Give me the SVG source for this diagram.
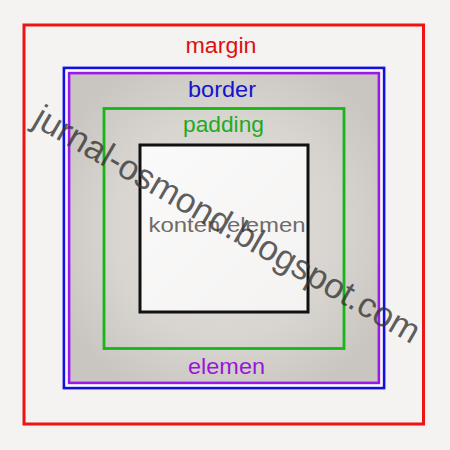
<svg xmlns="http://www.w3.org/2000/svg" width="450" height="450" viewBox="0 0 450 450">
  <defs>
    <radialGradient id="boxFill" cx="50%" cy="50%" r="60%">
      <stop offset="0" stop-color="#e2dfdc"/>
      <stop offset="0.6" stop-color="#d8d5d1"/>
      <stop offset="1" stop-color="#c9c5c1"/>
    </radialGradient>
    <linearGradient id="contentFill" x1="0" y1="0" x2="1" y2="1">
      <stop offset="0" stop-color="#fbfafa"/>
      <stop offset="1" stop-color="#f4f3f2"/>
    </linearGradient>
  </defs>
  <style>
    .lbl { font-family: "Liberation Sans", Arial, sans-serif; font-size: 22.5px; text-anchor: middle; }
    .frame { fill: none; }
  </style>
  <rect width="450" height="450" fill="#f4f3f2"/>

  <g id="margin">
    <rect class="frame" x="24" y="25" width="399.5" height="399" stroke="#ee1414" stroke-width="3"/>
    <text class="lbl" x="221" y="52.5" fill="#dd1111" textLength="71" lengthAdjust="spacingAndGlyphs">margin</text>
  </g>

  <g id="elemen">
    <rect x="69" y="73" width="310" height="310" fill="url(#boxFill)" stroke="#9c18ec" stroke-width="2.8"/>
    <text class="lbl" x="226.5" y="373.5" fill="#9a16d8" textLength="77" lengthAdjust="spacingAndGlyphs">elemen</text>
  </g>

  <g id="border">
    <rect class="frame" x="64" y="68" width="320" height="320" stroke="#1010e0" stroke-width="2.8"/>
    <rect class="frame" x="66.5" y="70.5" width="315" height="315" stroke="#f8f8f8" stroke-width="2.2"/>
    <text class="lbl" x="222" y="96.5" fill="#1414cc" textLength="68" lengthAdjust="spacingAndGlyphs">border</text>
  </g>

  <g id="padding">
    <rect class="frame" x="104" y="108.5" width="240" height="240" stroke="#18b418" stroke-width="2.8"/>
    <text class="lbl" x="223.5" y="131.5" fill="#22aa22" textLength="81" lengthAdjust="spacingAndGlyphs">padding</text>
  </g>

  <g id="konten">
    <rect x="140" y="145" width="168" height="167" fill="url(#contentFill)" stroke="#111111" stroke-width="3"/>
    <text x="227" y="231.5" font-family="'Liberation Sans', Arial, sans-serif" font-size="20" text-anchor="middle" fill="#6f6b68" textLength="157" lengthAdjust="spacingAndGlyphs">konten elemen</text>
  </g>

  <g id="watermark">
    <text x="31" y="124.5" transform="rotate(30 31 124.5)" font-family="'Liberation Sans', Arial, sans-serif" font-size="35" fill="#333333" fill-opacity="0.78">jurnal-osmond.blogspot.com</text>
  </g>
</svg>
